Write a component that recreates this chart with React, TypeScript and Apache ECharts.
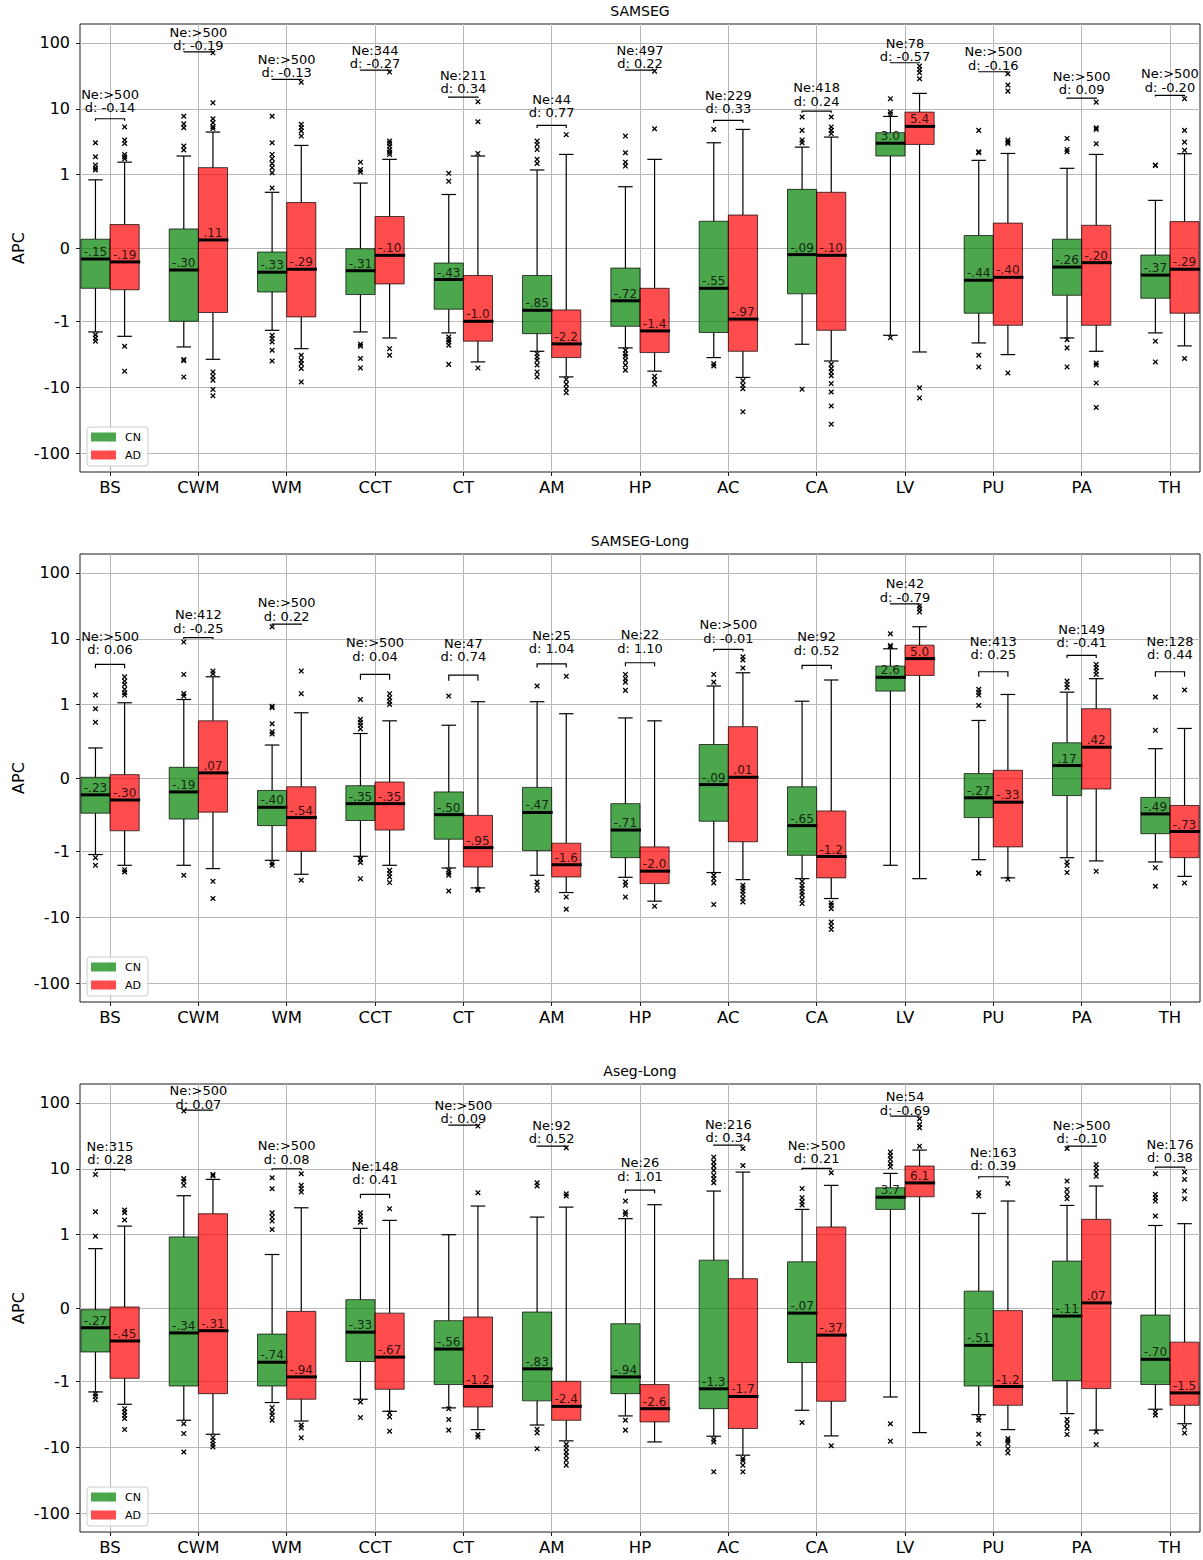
import React, { useEffect, useRef } from 'react';
import * as echarts from 'echarts';

// ---------- data ----------
const CATEGORIES = ['BS', 'CWM', 'WM', 'CCT', 'CT', 'AM', 'HP', 'AC', 'CA', 'LV', 'PU', 'PA', 'TH'];
const TICK_VALUES = [-100, -10, -1, 0, 1, 10, 100];
const GROUPS = ['CN', 'AD'];

// Box rows: [lower whisker, Q1, median, Q3, upper whisker]
const SAMSEG_CN = [
  [-1.45, -0.55, -0.15, 0.12, 0.93],
  [-2.45, -1.0, -0.3, 0.26, 1.92],
  [-1.37, -0.6, -0.33, -0.055, 0.76],
  [-1.45, -0.635, -0.31, -0.01, 0.886],
  [-1.5, -0.835, -0.43, -0.205, 0.73],
  [-2.85, -1.54, -0.85, -0.375, 1.18],
  [-2.53, -1.19, -0.72, -0.274, 0.836],
  [-3.55, -1.48, -0.55, 0.365, 3.05],
  [-2.23, -0.625, -0.09, 0.8, 2.62],
  [-1.63, 1.92, 3.0, 4.33, 7.65],
  [-2.13, -0.89, -0.44, 0.17, 1.65],
  [-1.79, -0.645, -0.26, 0.12, 1.25],
  [-1.5, -0.685, -0.37, -0.096, 0.65],
];
const SAMSEG_AD = [
  [-1.69, -0.57, -0.19, 0.32, 1.55],
  [-3.77, -0.88, 0.11, 1.28, 4.43],
  [-2.6, -0.94, -0.29, 0.62, 2.78],
  [-1.79, -0.49, -0.1, 0.43, 1.71],
  [-4.13, -2.0, -1.0, -0.375, 1.92],
  [-6.97, -3.55, -2.2, -0.845, 2.03],
  [-5.7, -2.98, -1.4, -0.55, 1.71],
  [-7.1, -2.85, -0.97, 0.45, 4.86],
  [-4.0, -1.37, -0.1, 0.76, 3.72],
  [-2.92, 2.88, 5.4, 8.9, 17.1],
  [-3.2, -1.15, -0.4, 0.34, 2.1],
  [-2.85, -1.15, -0.2, 0.31, 2.03],
  [-2.36, -0.89, -0.29, 0.36, 2.08],
];
const SAMSEG_CN_OUT = [
  [3.05, 1.87, 1.4, 1.26, 1.18, -1.6, -1.8, -2.0],
  [7.7, 5.9, 5.15, 2.72, 2.37, -3.8, -3.95, -6.97],
  [7.7, 3.05, 2.03, 1.75, 1.48, 1.28, 1.07, 0.82, -1.63, -1.83, -2.06, -2.75, -4.0],
  [1.55, 1.2, 1.1, -2.23, -2.39, -3.67, -5.1],
  [1.05, 0.91, -1.73, -1.9, -2.06, -2.3, -4.5],
  [3.24, 2.88, 2.42, 1.71, 1.48, -3.1, -3.47, -3.9, -4.6, -5.85, -6.97],
  [3.85, 2.15, 1.55, 1.35, -2.75, -3.1, -3.39, -3.9, -4.6, -5.5],
  [4.86, -4.4, -4.75],
  [7.5, 4.7, 3.35, 3.05, -10.7],
  [14.2, 8.9, 8.2, -1.77],
  [4.7, 2.23, 2.15, -3.27, -4.92],
  [3.55, 2.42, 2.23, -1.9, -2.53, -4.92],
  [1.4, 1.38, -2.0, -4.13],
];
const SAMSEG_AD_OUT = [
  [5.3, 3.35, 2.98, 2.03, 1.87, 1.75, -2.39, -5.7],
  [70.5, 12.3, 7.06, 6.13, 5.33, 5.0, -5.85, -6.8, -7.8, -10.8, -13.5],
  [25.3, 5.8, 5.2, 4.6, 3.85, -3.27, -3.9, -4.4, -5.2, -8.3],
  [36, 3.24, 3.0, 2.72, 2.42, 2.2, 2.03, -2.6, -3.27],
  [12.8, 6.35, 2.1, -5.1],
  [4.04, -7.6, -9.0, -10.5, -12.1],
  [37.2, 4.98, -6.8, -7.8, -9.0],
  [-8.0, -9.3, -10.5, -23.6],
  [7.5, 5.3, 4.7, 4.2, -4.5, -5.2, -5.85, -6.7, -8.8, -11.8, -19.2, -36.3],
  [44.3, 39.5, 35.2, 28.5, -10.2, -14.5],
  [33.9, 22.9, 18.5, 3.35, 3.12, 2.98, -6.07],
  [12.6, 5.15, 4.86, 2.95, -4.28, -4.6, -8.6, -20.3],
  [14.2, 4.7, 3.12, 2.34, -3.67],
];
const SAMSEG_NE = ['>500', '>500', '>500', '344', '211', '44', '497', '229', '418', '78', '>500', '>500', '>500'];
const SAMSEG_D = [-0.14, -0.19, -0.13, -0.27, 0.34, 0.77, 0.22, 0.33, 0.24, -0.57, -0.16, 0.09, -0.2];
const SAMSEG_BRACKET = [7.05, 73, 27.8, 38.6, 15, 5.6, 38.6, 6.66, 9.2, 49.8, 36.4, 14.5, 15.9];

const LONG_CN = [
  [-1.12, -0.48, -0.23, 0.01, 0.41],
  [-1.63, -0.56, -0.19, 0.146, 1.2],
  [-1.37, -0.65, -0.4, -0.17, 0.45],
  [-1.19, -0.58, -0.35, -0.105, 0.607],
  [-1.79, -0.835, -0.5, -0.19, 0.72],
  [-2.31, -0.99, -0.47, -0.128, 1.11],
  [-2.48, -1.25, -0.71, -0.35, 0.82],
  [-2.1, -0.59, -0.09, 0.457, 1.92],
  [-2.6, -1.15, -0.65, -0.12, 1.13],
  [-1.63, 1.61, 2.6, 3.85, 7.05],
  [-1.34, -0.54, -0.27, 0.06, 0.785],
  [-1.25, -0.24, 0.17, 0.48, 1.55],
  [-1.45, -0.76, -0.49, -0.265, 0.4],
];
const LONG_AD = [
  [-1.63, -0.72, -0.3, 0.046, 1.07],
  [-1.83, -0.466, 0.07, 0.78, 2.65],
  [-2.23, -1.0, -0.54, -0.12, 0.89],
  [-1.63, -0.71, -0.35, -0.055, 0.78],
  [-3.59, -1.73, -0.95, -0.51, 1.11],
  [-4.22, -2.45, -1.6, -0.89, 0.877],
  [-5.7, -3.09, -2.0, -0.94, 0.78],
  [-2.69, -0.87, 0.01, 0.7, 3.05],
  [-5.2, -2.53, -1.2, -0.45, 2.37],
  [-2.6, 2.78, 5.0, 8.0, 15.2],
  [-2.53, -0.94, -0.33, 0.105, 1.43],
  [-1.4, -0.15, 0.42, 0.945, 2.48],
  [-2.4, -1.25, -0.73, -0.375, 0.676],
];
const LONG_CN_OUT = [
  [1.4, 0.945, 0.76, -1.25, -1.63],
  [8.9, 2.88, 1.48, 1.35, -2.31],
  [15.2, 0.98, 0.96, 0.74, 0.63, 0.6, -1.5, -1.63],
  [1.2, 0.8, 0.76, 0.72, 0.67, -1.29, -1.33, -1.48, -2.6],
  [1.35, -1.94, -2.13, -2.31, -4.0],
  [1.92, -2.92, -3.27, -3.9],
  [2.88, 2.48, 2.2, 1.65, -2.92, -3.27, -4.92],
  [2.88, 2.2, -2.31, -2.6, -3.02, -6.43],
  [-2.85, -3.27, -3.67, -4.13, -4.6, -5.4, -6.2],
  [11.9, 7.9, 7.57],
  [1.71, 1.55, 1.4, 0.99, -2.13, -2.15],
  [2.28, 2.03, 1.81, -1.45, -1.63, -2.1],
  [1.31, 0.65, -1.77, -3.39],
];
const LONG_AD_OUT = [
  [2.65, 2.28, 2.03, 1.71, 1.52, 1.4, -1.9, -2.06],
  [3.24, 2.95, -2.85, -5.2],
  [3.24, 1.47, -2.75],
  [1.47, 1.28, 1.13, 1.01, -1.94, -2.18, -2.45, -2.98],
  [-3.77, -3.9],
  [2.69, -4.92, -7.56],
  [-6.8],
  [5.33, 4.76, 3.6, -3.27, -3.59, -4.0, -4.49, -5.2, -5.85],
  [-6.07, -6.6, -7.4, -11.8, -13.5, -15.3],
  [31.3, 28.5, 25.4],
  [-2.65],
  [4.08, 3.63, 3.24, 2.88, -2.0],
  [1.67, -3.02],
];
const LONG_NE = ['>500', '412', '>500', '>500', '47', '25', '22', '>500', '92', '42', '413', '149', '128'];
const LONG_D = [0.06, -0.25, 0.22, 0.04, 0.74, 1.04, 1.1, -0.01, 0.52, -0.79, 0.25, -0.41, 0.44];
const LONG_BRACKET = [4.08, 10.4, 16.7, 2.88, 2.81, 4.17, 4.33, 6.89, 3.94, 33.9, 3.16, 5.6, 3.16];

const ASEG_CN = [
  [-1.45, -0.6, -0.27, -0.023, 0.81],
  [-3.9, -1.18, -0.34, 0.97, 3.9],
  [-2.1, -1.18, -0.74, -0.356, 0.73],
  [-1.87, -0.73, -0.33, 0.114, 1.25],
  [-2.53, -1.12, -0.56, -0.173, 1.0],
  [-4.6, -1.98, -0.83, -0.055, 1.85],
  [-3.35, -1.54, -0.94, -0.215, 1.75],
  [-6.8, -2.6, -1.3, 0.653, 4.59],
  [-2.75, -0.744, -0.07, 0.63, 2.42],
  [-1.73, 2.42, 3.7, 5.15, 8.5],
  [-3.2, -1.18, -0.51, 0.23, 2.1],
  [-3.09, -0.99, -0.11, 0.64, 2.78],
  [-2.65, -1.12, -0.7, -0.096, 1.38],
];
const ASEG_AD = [
  [-2.23, -0.96, -0.45, 0.014, 1.35],
  [-6.35, -1.54, -0.31, 2.08, 6.89],
  [-4.0, -1.87, -0.94, -0.046, 2.56],
  [-2.85, -1.32, -0.67, -0.07, 1.65],
  [-5.4, -2.45, -1.2, -0.123, 2.72],
  [-8.0, -3.9, -2.4, -1.0, 2.62],
  [-8.3, -4.13, -2.6, -1.12, 2.85],
  [-13.2, -5.2, -1.7, 0.4, 8.9],
  [-6.73, -2.01, -0.37, 1.31, 5.6],
  [-6.0, 3.76, 6.1, 11.0, 19.2],
  [-5.4, -2.31, -1.2, -0.036, 3.24],
  [-5.5, -1.29, 0.07, 1.71, 5.47],
  [-4.4, -2.31, -1.5, -0.466, 1.47],
];
const ASEG_CN_OUT = [
  [8.2, 2.23, 0.98, -1.54, -1.69, -1.9],
  [74.8, 7.1, 6.5, 5.6, -4.4, -6.2, -11.8],
  [7.3, 4.98, 2.15, 1.85, 1.61, 1.2, -2.5, -2.92, -3.27, -3.9],
  [2.15, 1.92, 1.71, 1.55, -2.06, -3.55],
  [-2.6, -3.8, -5.5],
  [6.13, 5.47, -5.33, -6.07, -10.5],
  [3.24, 2.2, 2.03, -3.9, -5.5],
  [15, 12.6, 11, 9.5, 8.0, 7.05, 6.13, -7.56, -8.3, -23.6],
  [5.0, 3.63, 3.16, 2.82, -4.22],
  [17.9, 15.9, 13.9, 12.0, 10.7, -4.4, -8.1],
  [4.33, 3.85, -3.55, -3.9, -6.35, -8.8],
  [20.3, 6.5, 4.86, 4.08, 3.5, -3.8, -4.4, -5.2, -6.4],
  [8.4, 4.08, 3.63, 3.24, 1.92, -2.92, -3.27],
];
const ASEG_AD_OUT = [
  [2.37, 2.15, 1.67, -2.6, -2.92, -3.27, -3.67, -5.4],
  [8.2, 7.8, -7.1, -8.0, -9.0, -9.9],
  [8.4, 5.6, 5.0, 4.43, -4.6, -5.1, -7.2],
  [2.48, -3.02, -3.47, -5.7],
  [44.3, 4.33, -6.43, -6.97],
  [20.8, 4.17, 3.85, -9.0, -10.2, -11.8, -13.5, -15.7, -18.7],
  [],
  [20.3, 11.2, -14.8, -16.0, -18.7, -23.6],
  [8.7, -9.5],
  [57.3, 46.9, 41.8, 22.0],
  [6.0, -7.4, -8.0, -8.8, -10.5, -12.2],
  [11.6, 10.3, 8.9, 7.7, -5.85, -9.1],
  [8.9, 6.89, 4.59, 3.5, -4.92, -6.07],
];
const ASEG_NE = ['315', '>500', '>500', '148', '>500', '92', '26', '216', '>500', '54', '163', '>500', '176'];
const ASEG_D = [0.28, 0.07, 0.08, 0.41, 0.09, 0.52, 1.01, 0.34, 0.21, -0.69, 0.39, -0.1, 0.38];
const ASEG_BRACKET = [9.77, 77.4, 10, 4.08, 45.9, 22, 4.75, 22.8, 10.1, 62.8, 7.57, 22, 10.6];

const PANELS = [
  { title: 'SAMSEG', cn: SAMSEG_CN, ad: SAMSEG_AD, cnOut: SAMSEG_CN_OUT, adOut: SAMSEG_AD_OUT, ne: SAMSEG_NE, d: SAMSEG_D, bracket: SAMSEG_BRACKET },
  { title: 'SAMSEG-Long', cn: LONG_CN, ad: LONG_AD, cnOut: LONG_CN_OUT, adOut: LONG_AD_OUT, ne: LONG_NE, d: LONG_D, bracket: LONG_BRACKET },
  { title: 'Aseg-Long', cn: ASEG_CN, ad: ASEG_AD, cnOut: ASEG_CN_OUT, adOut: ASEG_AD_OUT, ne: ASEG_NE, d: ASEG_D, bracket: ASEG_BRACKET },
];

// ---------- layout & style ----------
const WIDTH = 1203;
const HEIGHT = 1560;
const FONT = 'DejaVu Sans';
const GRID_LEFT = 80;
const GRID_RIGHT = 3;
const GRID_TOPS = [24, 554, 1084];
const GRID_H = 448;
const X_MIN = -0.34;
const X_MAX = 12.34;
const Y_LIM = 3.396;
const BOX_W = 0.33;
const OFFSET = 0.165;
const FILLS = ['rgba(0,128,0,0.7)', 'rgba(255,0,0,0.7)'];
const MED_TEXT = ['#102a10', '#3c0e0e'];

// symmetric-log scale (base 10, linear threshold 1, linscale 1)
const LIN = 1 / (1 - 1 / 10);
function symlog(v: number): number {
  const a = Math.abs(v);
  return a <= 1 ? v * LIN : Math.sign(v) * (LIN + Math.log10(a));
}
const TICKS_T = TICK_VALUES.map(symlog);

function fmtMedian(v: number): string {
  const a = Math.abs(v);
  if (a < 1) return (v < 0 ? '-' : '') + a.toFixed(2).replace(/^0/, '');
  return v.toFixed(1);
}

function textStyle(extra: any) {
  return Object.assign({ fontFamily: FONT, fill: '#000' }, extra);
}

function boxSeries(k: number, g: number, rows: number[][]) {
  return {
    type: 'custom',
    name: GROUPS[g],
    xAxisIndex: k,
    yAxisIndex: k,
    z: 3,
    data: rows.map((r, i) => [i + (g ? OFFSET : -OFFSET), ...r.map(symlog), r[2]]),
    encode: { x: 0, y: [1, 2, 3, 4, 5] },
    renderItem: (params: any, api: any) => {
      const x = api.value(0);
      const pt = (j: number) => api.coord([x, api.value(j)]);
      const lo = pt(1), q1 = pt(2), md = pt(3), q3 = pt(4), hi = pt(5);
      const cx = lo[0];
      const hw = api.size([BOX_W, 0])[0] / 2;
      const cw = hw / 2;
      const ws = { stroke: '#000', lineWidth: 1.2 };
      const label = fmtMedian(api.value(6));
      return {
        type: 'group',
        children: [
          { type: 'line', shape: { x1: cx, y1: q3[1], x2: cx, y2: hi[1] }, style: ws },
          { type: 'line', shape: { x1: cx, y1: q1[1], x2: cx, y2: lo[1] }, style: ws },
          { type: 'line', shape: { x1: cx - cw, y1: hi[1], x2: cx + cw, y2: hi[1] }, style: ws },
          { type: 'line', shape: { x1: cx - cw, y1: lo[1], x2: cx + cw, y2: lo[1] }, style: ws },
          {
            type: 'rect',
            shape: { x: cx - hw, y: q3[1], width: 2 * hw, height: q1[1] - q3[1] },
            style: { fill: FILLS[g], stroke: 'rgba(0,0,0,0.7)', lineWidth: 1 },
          },
          { type: 'line', shape: { x1: cx - hw, y1: md[1], x2: cx + hw + 1, y2: md[1] }, style: { stroke: '#000', lineWidth: 3 } },
          {
            type: 'text',
            x: cx,
            y: md[1] - 1,
            style: textStyle({
              text: label, fontSize: 12, fill: MED_TEXT[g],
              align: 'center', textAlign: 'center', verticalAlign: 'bottom', textVerticalAlign: 'bottom',
            }),
          },
        ],
      };
    },
  };
}

function outlierSeries(k: number, g: number, lists: number[][]) {
  const pts: number[][] = [];
  lists.forEach((vals, i) => vals.forEach((v) => pts.push([i + (g ? OFFSET : -OFFSET), symlog(v)])));
  return {
    type: 'custom',
    name: GROUPS[g] + ' outliers',
    xAxisIndex: k,
    yAxisIndex: k,
    z: 4,
    data: pts,
    encode: { x: 0, y: 1 },
    renderItem: (params: any, api: any) => {
      const p = api.coord([api.value(0), api.value(1)]);
      const s = 2.3;
      const st = { stroke: '#000', lineWidth: 1.3 };
      return {
        type: 'group',
        children: [
          { type: 'line', shape: { x1: p[0] - s, y1: p[1] - s, x2: p[0] + s, y2: p[1] + s }, style: st },
          { type: 'line', shape: { x1: p[0] - s, y1: p[1] + s, x2: p[0] + s, y2: p[1] - s }, style: st },
        ],
      };
    },
  };
}

function bracketSeries(k: number, panel: any) {
  return {
    type: 'custom',
    name: 'effect',
    xAxisIndex: k,
    yAxisIndex: k,
    z: 5,
    data: panel.bracket.map((b: number, i: number) => [i, symlog(b), symlog(b - 0.5), symlog(1.2 * b + 2)]),
    encode: { x: 0, y: [1, 2, 3] },
    renderItem: (params: any, api: any) => {
      const i = params.dataIndex;
      const x = api.value(0);
      const left = api.coord([x - OFFSET, api.value(1)]);
      const right = api.coord([x + OFFSET, api.value(1)]);
      const tickEnd = api.coord([x, api.value(2)])[1];
      const textAt = api.coord([x, api.value(3)]);
      const txt = 'Ne:' + panel.ne[i] + '\nd: ' + panel.d[i].toFixed(2);
      return {
        type: 'group',
        children: [
          {
            type: 'polyline',
            shape: { points: [[left[0], tickEnd], [left[0], left[1]], [right[0], right[1]], [right[0], tickEnd]] },
            style: { stroke: '#000', lineWidth: 1.2, fill: 'none' },
          },
          {
            type: 'text',
            x: textAt[0],
            y: textAt[1] + 6.7,
            style: textStyle({
              text: txt, fontSize: 13, lineHeight: 13.4,
              align: 'center', textAlign: 'center', verticalAlign: 'bottom', textVerticalAlign: 'bottom',
            }),
          },
        ],
      };
    },
  };
}

function legendGraphics(top: number) {
  const base = top + 403;
  return [
    { type: 'rect', z: 100, shape: { x: 87, y: base, width: 61, height: 39, r: 3 }, style: { fill: 'rgba(255,255,255,0.8)', stroke: '#cccccc', lineWidth: 1 } },
    { type: 'rect', z: 101, shape: { x: 91, y: base + 5.5, width: 25, height: 9 }, style: { fill: FILLS[0] } },
    { type: 'rect', z: 101, shape: { x: 91, y: base + 23.5, width: 25, height: 9 }, style: { fill: FILLS[1] } },
    { type: 'text', z: 101, x: 125, y: base + 10, style: textStyle({ text: GROUPS[0], fontSize: 11, verticalAlign: 'middle', textVerticalAlign: 'middle' }) },
    { type: 'text', z: 101, x: 125, y: base + 28, style: textStyle({ text: GROUPS[1], fontSize: 11, verticalAlign: 'middle', textVerticalAlign: 'middle' }) },
  ];
}

function buildOption() {
  const grid: any[] = [];
  const xAxis: any[] = [];
  const yAxis: any[] = [];
  const series: any[] = [];
  const graphic: any[] = [];
  const catIdx = CATEGORIES.map((_, i) => i);
  const gridLine = { show: true, lineStyle: { color: '#b8b8b8', width: 1 } };

  PANELS.forEach((p, k) => {
    const top = GRID_TOPS[k];
    grid.push({ left: GRID_LEFT, right: GRID_RIGHT, top, height: GRID_H, show: true, borderColor: '#1a1a1a', borderWidth: 1 });
    xAxis.push({
      type: 'value', gridIndex: k, min: X_MIN, max: X_MAX,
      axisLine: { show: false, onZero: false },
      axisTick: { show: true, customValues: catIdx, length: 4, lineStyle: { color: '#1a1a1a' } },
      axisLabel: { customValues: catIdx, formatter: (v: number) => CATEGORIES[Math.round(v)], fontSize: 16.5, color: '#000', fontFamily: FONT, margin: 7 },
      splitLine: gridLine,
    });
    yAxis.push({
      type: 'value', gridIndex: k, min: -Y_LIM, max: Y_LIM,
      axisLine: { show: false, onZero: false },
      axisTick: { show: true, customValues: TICKS_T, length: 4, lineStyle: { color: '#1a1a1a' } },
      axisLabel: {
        customValues: TICKS_T,
        formatter: (v: number) => {
          const i = TICKS_T.findIndex((t) => Math.abs(t - v) < 1e-6);
          return i >= 0 ? String(TICK_VALUES[i]) : '';
        },
        fontSize: 16, color: '#000', fontFamily: FONT, margin: 10,
      },
      splitLine: gridLine,
    });
    series.push(boxSeries(k, 0, p.cn));
    series.push(boxSeries(k, 1, p.ad));
    series.push(outlierSeries(k, 0, p.cnOut));
    series.push(outlierSeries(k, 1, p.adOut));
    series.push(bracketSeries(k, p));

    graphic.push({
      type: 'text', x: GRID_LEFT + (WIDTH - GRID_LEFT - GRID_RIGHT) / 2, y: top - 13,
      style: textStyle({ text: p.title, fontSize: 14, align: 'center', textAlign: 'center', verticalAlign: 'middle', textVerticalAlign: 'middle' }),
    });
    graphic.push({
      type: 'text', x: 18, y: top + GRID_H / 2, rotation: Math.PI / 2,
      style: textStyle({ text: 'APC', fontSize: 16, align: 'center', textAlign: 'center', verticalAlign: 'middle', textVerticalAlign: 'middle' }),
    });
    legendGraphics(top).forEach((el) => graphic.push(el));
  });

  return { animation: false, backgroundColor: '#ffffff', grid, xAxis, yAxis, series, graphic };
}

export default function App() {
  const ref = useRef<HTMLDivElement>(null);
  useEffect(() => {
    document.body.style.margin = '0';
    const chart = echarts.init(ref.current as HTMLDivElement, null, { renderer: 'svg' });
    chart.setOption(buildOption() as any);
    return () => chart.dispose();
  }, []);
  return <div ref={ref} style={{ width: WIDTH, height: HEIGHT }} />;
}
